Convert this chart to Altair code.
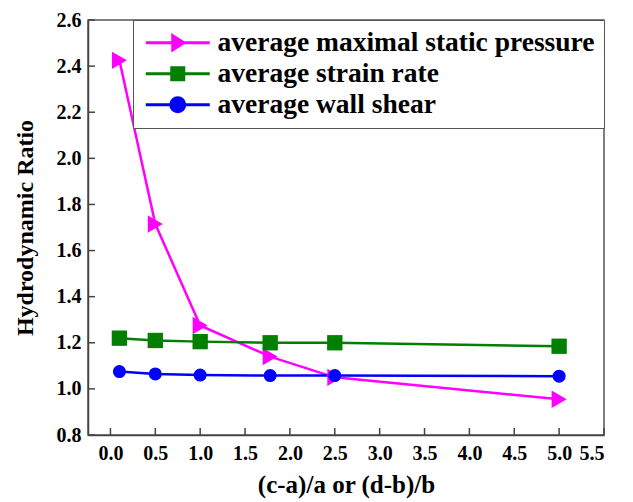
import altair as alt
import pandas as pd

# ---- data ----
x_vals = [0.1, 0.5, 1.0, 1.78, 2.5, 5.0]
pressure = [2.425, 1.715, 1.275, 1.14, 1.05, 0.955]
strain = [1.22, 1.21, 1.205, 1.20, 1.20, 1.185]
wall = [1.075, 1.065, 1.06, 1.058, 1.058, 1.055]

series_names = ["average maximal static pressure", "average strain rate", "average wall shear"]
colors = ["#FF00FF", "#007F00", "#0000FF"]
marker_shapes = ["triangle-right", "square", "circle"]
marker_sizes = [300, 170, 230]
legend_paths = [
    "M-1,0H5.4M1.7,-0.7L2.8,0L1.7,0.7Z",
    "M-1,0H5.4M1.6,-0.6H2.8V0.6H1.6Z",
    "M-1,0H5.4M2.9,0A0.7,0.7 0 1,1 1.5,0A0.7,0.7 0 1,1 2.9,0Z",
]

x_ticks = [0.0, 0.5, 1.0, 1.5, 2.0, 2.5, 3.0, 3.5, 4.0, 4.5, 5.0, 5.5]
y_ticks = [0.8, 1.0, 1.2, 1.4, 1.6, 1.8, 2.0, 2.2, 2.4, 2.6]
x_domain = [-0.25, 5.5]
y_domain = [0.8, 2.6]

FONT = "'Liberation Serif', 'Times New Roman', Times, serif"
W, H = 516, 415

rows = []
for name, vals in zip(series_names, [pressure, strain, wall]):
    for xv, yv in zip(x_vals, vals):
        rows.append({"x": xv, "y": yv, "series": name})
df = pd.DataFrame(rows)

xs = alt.Scale(domain=x_domain, nice=False, zero=False)
ys = alt.Scale(domain=y_domain, nice=False, zero=False)

x_axis = alt.Axis(values=x_ticks, format=".1f", tickSize=0, labelPadding=8,
                  title="(c-a)/a or (d-b)/b", titlePadding=9, titleFontSize=25, grid=False)
y_axis = alt.Axis(values=y_ticks, format=".1f", tickSize=0, labelPadding=7,
                  title="Hydrodynamic Ratio", titlePadding=19, titleFontSize=24, grid=False)

base = alt.Chart(df)

lines = base.mark_line(strokeWidth=2.5).encode(
    x=alt.X("x:Q", scale=xs, axis=x_axis),
    y=alt.Y("y:Q", scale=ys, axis=y_axis),
    color=alt.Color("series:N", scale=alt.Scale(domain=series_names, range=colors), legend=None),
    detail="series:N",
)

points = base.mark_point(filled=True, opacity=1).encode(
    x=alt.X("x:Q", scale=xs),
    y=alt.Y("y:Q", scale=ys),
    color=alt.Color("series:N", scale=alt.Scale(domain=series_names, range=colors), legend=None),
    shape=alt.Shape("series:N", scale=alt.Scale(domain=series_names, range=marker_shapes), legend=None),
    size=alt.Size("series:N", scale=alt.Scale(domain=series_names, range=marker_sizes), legend=None),
)

legend_layer = base.transform_filter("datum.x < -100").mark_point(filled=True, opacity=1).encode(
    x=alt.X("x:Q", scale=xs),
    y=alt.Y("y:Q", scale=ys),
    fill=alt.Fill("series:N", scale=alt.Scale(domain=series_names, range=colors), legend=None),
    stroke=alt.Stroke("series:N", scale=alt.Scale(domain=series_names, range=colors), legend=None),
    shape=alt.Shape("series:N", scale=alt.Scale(domain=series_names, range=legend_paths),
                    legend=alt.Legend(title=None, orient="top-right", offset=0,
                                      strokeColor="#555555", fillColor="white",
                                      padding=9, labelFont=FONT, labelFontWeight="bold",
                                      labelFontSize=27.5, labelLimit=0, labelColor="black",
                                      symbolSize=400, symbolStrokeWidth=3,
                                      rowPadding=2, labelOffset=48, cornerRadius=0)),
)

tick_len_x = 7 / H * (y_domain[1] - y_domain[0])
tick_len_y = 7 / W * (x_domain[1] - x_domain[0])

xt = pd.DataFrame({"t": x_ticks})
yt = pd.DataFrame({"t": y_ticks})

x_tick_marks = alt.Chart(xt).mark_rule(color="#444444", strokeWidth=1.5).encode(
    x=alt.X("t:Q", scale=xs),
    y=alt.datum(y_domain[0], scale=ys),
    y2=alt.datum(y_domain[0] + tick_len_x),
)
y_tick_marks = alt.Chart(yt).mark_rule(color="#444444", strokeWidth=1.5).encode(
    y=alt.Y("t:Q", scale=ys),
    x=alt.datum(x_domain[0], scale=xs),
    x2=alt.datum(x_domain[0] + tick_len_y),
)

chart = alt.layer(x_tick_marks, y_tick_marks, lines, points, legend_layer).resolve_scale(
    color="independent", shape="independent", size="independent",
    fill="independent", stroke="independent",
).properties(
    width=W, height=H,
    padding={"left": 5, "top": 2, "right": 5, "bottom": 5},
).configure_view(
    stroke="#555555", strokeWidth=1.5,
).configure_axis(
    labelFont=FONT, labelFontWeight="bold", labelFontSize=20, labelColor="black",
    titleFont=FONT, titleFontWeight="bold", titleColor="black",
    domainColor="#444444", domainWidth=1.5,
)

chart.save("out.html", embed_options={"renderer": "svg", "actions": False})
